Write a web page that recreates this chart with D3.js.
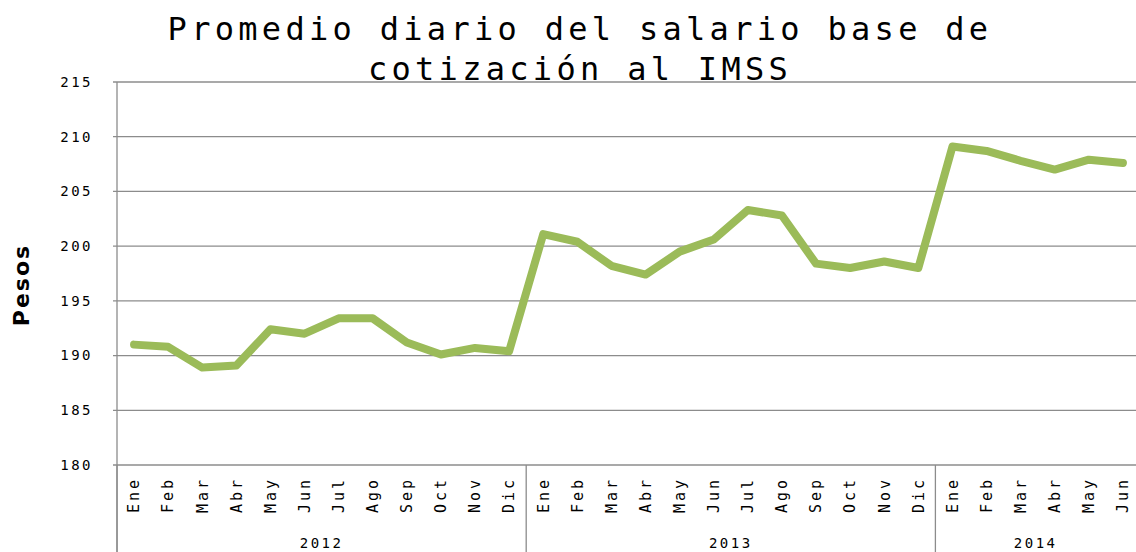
<!DOCTYPE html>
<html lang="es">
<head>
    <meta charset="utf-8">
    <title>Promedio diario del salario base</title>
    <style type="text/css">
        body { margin: 0; background: #fff; }
        .chart text { font-family: "DejaVu Sans Mono", monospace; fill: #000; }
        .grid line { stroke: #8c8c8c; stroke-width: 1.3; }
        .axis-line { stroke: #8c8c8c; stroke-width: 1.3; }
        .serie { fill: none; stroke: #9bbb59; stroke-width: 8; stroke-linejoin: round; stroke-linecap: round; }
    </style>
</head>
<body>
    <svg class="chart" width="1136" height="552"></svg>

    <script src="https://d3js.org/d3.v7.min.js"></script>
    <script>
        // datos
        var meses = ['Ene','Feb','Mar','Abr','May','Jun','Jul','Ago','Sep','Oct','Nov','Dic'];
        var anios = ['2012', '2013', '2014'];
        var mesesPorAnio = [12, 12, 6];
        var salario2012 = [191.0, 190.8, 188.9, 189.1, 192.4, 192.0, 193.4, 193.4, 191.2, 190.1, 190.7, 190.4];
        var salario2013 = [201.1, 200.4, 198.2, 197.4, 199.5, 200.6, 203.3, 202.8, 198.4, 198.0, 198.6, 198.0];
        var salario2014 = [209.1, 208.7, 207.8, 207.0, 207.9, 207.6];
        var yTicks = [180, 185, 190, 195, 200, 205, 210, 215];

        // armar categorias
        var valores = [salario2012, salario2013, salario2014];
        var datos = [];
        anios.forEach(function(a, i) {
            for (var m = 0; m < mesesPorAnio[i]; m++) {
                datos.push({ key: a + '-' + m, mes: meses[m], anio: a, valor: valores[i][m] });
            }
        });

        var svg = d3.select('.chart'),
            padding = {top: 82, right: -4, bottom: 87, left: 117},
            width = +svg.attr('width'),
            height = +svg.attr('height'),
            plotBottom = height - padding.bottom;

        var x = d3.scaleBand()
            .domain(datos.map(function(d) { return d.key; }))
            .range([padding.left, width - padding.right]);

        var y = d3.scaleLinear()
            .domain([180, 215])
            .range([plotBottom, padding.top]);

        // titulo
        var titulo = svg.append('text')
            .attr('text-anchor', 'middle')
            .attr('font-size', 32)
            .attr('letter-spacing', 4.3);
        titulo.append('tspan').attr('x', 580).attr('y', 40).text('Promedio diario del salario base de');
        titulo.append('tspan').attr('x', 580).attr('y', 80).text('cotización al IMSS');

        // rejilla
        svg.append('g').attr('class', 'grid')
            .selectAll('line')
            .data(yTicks)
            .enter().append('line')
            .attr('x1', padding.left - 4)
            .attr('x2', width)
            .attr('y1', function(d) { return y(d); })
            .attr('y2', function(d) { return y(d); });

        // eje y
        svg.append('line').attr('class', 'axis-line')
            .attr('x1', padding.left).attr('x2', padding.left)
            .attr('y1', padding.top).attr('y2', height);

        svg.append('g')
            .selectAll('text')
            .data(yTicks)
            .enter().append('text')
            .attr('x', 93)
            .attr('y', function(d) { return y(d); })
            .attr('dy', '0.35em')
            .attr('text-anchor', 'end')
            .attr('font-size', 14)
            .attr('letter-spacing', 2.5)
            .text(function(d) { return d; });

        svg.append('text')
            .attr('transform', 'translate(29,285) rotate(-90)')
            .attr('text-anchor', 'middle')
            .attr('font-size', 22)
            .attr('font-weight', 'bold')
            .attr('letter-spacing', 2)
            .style('font-family', '"DejaVu Sans", sans-serif')
            .text('Pesos');

        // eje x: meses
        svg.append('g')
            .selectAll('text')
            .data(datos)
            .enter().append('text')
            .attr('transform', function(d) {
                return 'translate(' + (x(d.key) + x.bandwidth() / 2) + ',477) rotate(-90)';
            })
            .attr('dy', '0.35em')
            .attr('text-anchor', 'end')
            .attr('font-size', 15)
            .attr('letter-spacing', 3)
            .text(function(d) { return d.mes; });

        // eje x: anios y separadores
        var grupos = anios.map(function(a) {
            var ds = datos.filter(function(d) { return d.anio === a; });
            return { anio: a, x0: x(ds[0].key), x1: x(ds[ds.length - 1].key) + x.bandwidth() };
        });

        svg.append('g')
            .selectAll('line')
            .data(grupos)
            .enter().append('line')
            .attr('class', 'axis-line')
            .attr('x1', function(d) { return d.x0; })
            .attr('x2', function(d) { return d.x0; })
            .attr('y1', plotBottom)
            .attr('y2', height);

        svg.append('g')
            .selectAll('text')
            .data(grupos)
            .enter().append('text')
            .attr('x', function(d) { return (d.x0 + Math.min(d.x1, width)) / 2; })
            .attr('y', 548)
            .attr('text-anchor', 'middle')
            .attr('font-size', 14)
            .attr('letter-spacing', 2.5)
            .text(function(d) { return d.anio; });

        // linea
        var linea = d3.line()
            .x(function(d) { return x(d.key) + x.bandwidth() / 2; })
            .y(function(d) { return y(d.valor); });

        svg.append('path')
            .datum(datos)
            .attr('class', 'serie')
            .attr('d', linea);
    </script>
</body>
</html>
